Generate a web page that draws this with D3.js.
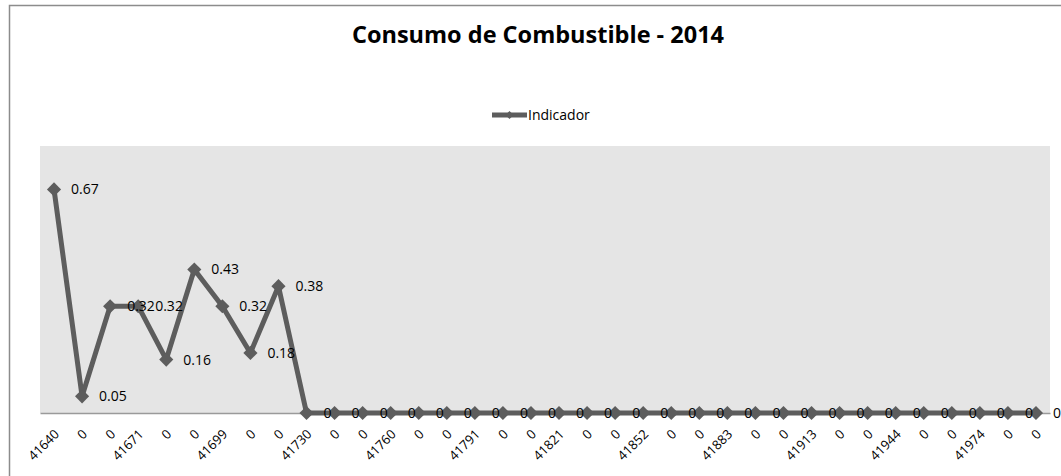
<!DOCTYPE html>
<html><head><meta charset="utf-8">
<script src="https://cdn.jsdelivr.net/npm/d3@7"></script>
<style>body{margin:0;background:#fff}svg{display:block}</style>
</head><body>
<script>
const categories = ["41640","0","0","41671","0","0","41699","0","0","41730","0","0","41760","0","0","41791","0","0","41821","0","0","41852","0","0","41883","0","0","41913","0","0","41944","0","0","41974","0","0"];
const values = [0.67,0.05,0.32,0.32,0.16,0.43,0.32,0.18,0.38,0,0,0,0,0,0,0,0,0,0,0,0,0,0,0,0,0,0,0,0,0,0,0,0,0,0,0];
const labels = ["0.67","0.05","0.32","0.32","0.16","0.43","0.32","0.18","0.38","0","0","0","0","0","0","0","0","0","0","0","0","0","0","0","0","0","0","0","0","0","0","0","0","0","0","0"];
const seriesName = "Indicador";
const title = "Consumo de Combustible - 2014";
const yDomain = [0, 0.8];

const W = 1061, H = 476;
const plot = {left: 40, right: 1050, top: 146, bottom: 413};
const font = "Open Sans, Lato, sans-serif";
const lineColor = "#5d5d5d";

const svg = d3.select("body").append("svg").attr("width", W).attr("height", H);

// chart border
svg.append("path").attr("d", `M9.5,${H+2} V5.5 H${W+2}`).attr("fill","none").attr("stroke","#8c8c8c").attr("stroke-width",1.5);

const x = d3.scaleBand().domain(d3.range(categories.length)).range([plot.left, plot.right]);
const y = d3.scaleLinear().domain(yDomain).range([plot.bottom, plot.top]);
const cx = i => x(i) + x.bandwidth()/2;

svg.append("rect").attr("x", plot.left).attr("y", plot.top)
  .attr("width", plot.right-plot.left).attr("height", plot.bottom-plot.top).attr("fill","#e5e5e5");

// axis
const xAxis = d3.axisBottom(x).tickSize(0).tickFormat(i => categories[i]);
const ax = svg.append("g").attr("transform", `translate(0,${plot.bottom})`).call(xAxis);
ax.select(".domain").attr("stroke","#9a9a9a").attr("stroke-width",1.5);
ax.selectAll(".tick text")
  .attr("font-family", font).attr("font-size", 13).attr("fill","#000")
  .attr("text-anchor","end").attr("dy",null).attr("y",null)
  .attr("transform","translate(6,22) rotate(-45)");

// line
const line = d3.line().x((d,i)=>cx(i)).y(d=>y(d));
svg.append("path").datum(values).attr("d", line).attr("fill","none")
  .attr("stroke", lineColor).attr("stroke-width", 5).attr("stroke-linejoin","round");

const diamond = d3.symbol(d3.symbolSquare, 100);
svg.selectAll(".pt").data(values).join("path").attr("class","pt")
  .attr("d", diamond).attr("fill", lineColor)
  .attr("transform",(d,i)=>`translate(${cx(i)},${y(d)}) rotate(45)`);

svg.selectAll(".lbl").data(values).join("text").attr("class","lbl")
  .attr("x",(d,i)=>cx(i)+17).attr("y",d=>y(d)).attr("dy","0.35em")
  .attr("font-family", font).attr("font-size", 14).attr("fill","#000")
  .text((d,i)=>labels[i]);

// title
svg.append("text").attr("x", 538).attr("y", 43).attr("text-anchor","middle")
  .attr("font-family", font).attr("font-weight","bold").attr("font-size", 23.5).attr("fill","#000")
  .text(title);

// legend
const lg = svg.append("g");
lg.append("line").attr("x1",492).attr("x2",527).attr("y1",115).attr("y2",115)
  .attr("stroke",lineColor).attr("stroke-width",5);
lg.append("path").attr("d", d3.symbol(d3.symbolSquare, 32)).attr("fill", lineColor)
  .attr("transform","translate(509.5,115) rotate(45)");
lg.append("text").attr("x",528).attr("y",115).attr("dy","0.35em")
  .attr("font-family", font).attr("font-size",14).attr("fill","#000").text(seriesName);
</script>
</body></html>
